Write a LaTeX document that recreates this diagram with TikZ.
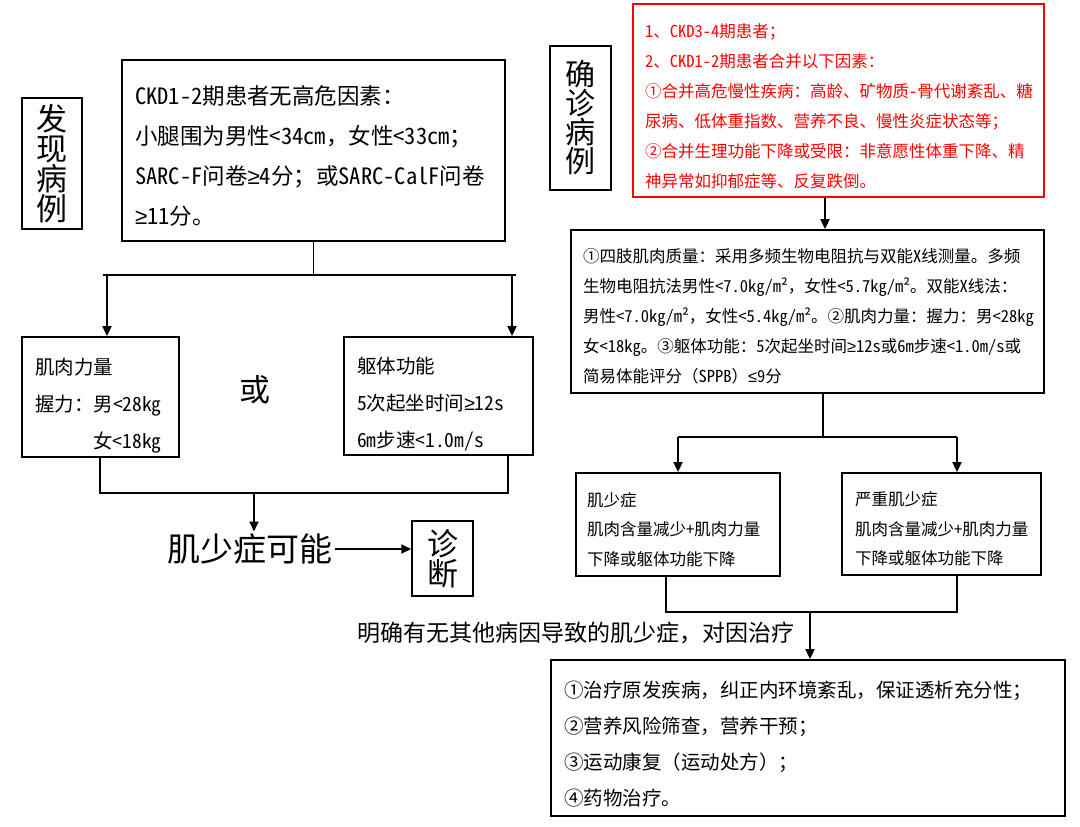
\documentclass[tikz,border=0pt]{standalone}
\usepackage{fontspec}
\setmainfont{Noto Sans CJK SC}[RawFeature=+hwid]
\newfontfamily\fwfont{Noto Sans CJK SC}
\newfontfamily\symfont{Liberation Sans}
\newcommand\gsym{{\symfont ≥}}
\newcommand\lsym{{\symfont ≤}}
\newcommand\fwcomma{{\fwfont ，}}
\newcommand\fwlp{{\fwfont （}}
\newcommand\fwrp{{\fwfont ）}}
\usepackage{tikz}
\usetikzlibrary{arrows.meta}

\begin{document}
\begin{tikzpicture}[x=1pt,y=-1pt]
	\tikzset{box/.style={draw,line width=1.8pt,align=left,inner xsep=13pt,inner ysep=0pt},
		textdrop/.style={execute at begin node={\exhyphenpenalty=10000\relax\rule{0pt}{\dimexpr0.9em+#1\relax}}},
		tag/.style={draw,line width=1.5pt,align=center,inner sep=0pt,font=\fontsize{31}{30}\selectfont},
		link/.style={line width=1.8pt},
		>={Triangle[length=10pt,width=9pt]}}
	\useasboundingbox (0,0) rectangle (1080,827);

	%% Left column: screening
	\node[tag,minimum width=60pt,minimum height=131pt] (find) at (52,163.5) {发\\现\\病\\例};
	\node[box,textdrop=10pt,text width=357pt,minimum width=383pt,minimum height=181pt,font=\fontsize{22.5}{40}\selectfont] (screen) at (313.5,150.5)
		{CKD1-2期患者无高危因素：\\小腿围为男性<34cm\fwcomma 女性<33cm；\\SARC-F问卷\gsym 4分；或SARC-CalF问卷\\\gsym 11分。};
	\node[box,textdrop=16pt,text width=131pt,minimum width=157pt,minimum height=120pt,font=\fontsize{19.5}{37}\selectfont] (grip) at (100.5,397)
		{肌肉力量\\握力：男<28kg\\\phantom{握力：}女<18kg};
	\node[box,textdrop=14pt,text width=163pt,minimum width=189pt,minimum height=118pt,font=\fontsize{19.5}{37}\selectfont] (perf) at (438.5,396)
		{躯体功能\\5次起坐时间\gsym 12s\\6m步速<1.0m/s};
	\node[font=\fontsize{31}{31}\selectfont] (or) at (255,390) {或};
	\node[font=\fontsize{33}{33}\selectfont,inner sep=2pt] (maybe) at (250,549) {肌少症可能};
	\node[tag,minimum width=61pt,minimum height=75pt] (diag) at (442.5,558.5) {诊\\断};

	\coordinate (gl) at (107,275);
	\coordinate (gr) at (512,275);
	\draw[link] (screen.south) -- (screen.south |- gl);
	\draw[link] (103,275) -- (516,275);
	\draw[link,->] (gl) -- (gl |- grip.north);
	\draw[link,->] (gr) -- (gr |- perf.north);
	\coordinate (bl) at (100,493);
	\coordinate (br) at (508,493);
	\coordinate (bm) at (254,493);
	\draw[link] (grip.south -| bl) -- (bl) -- (br) -- (perf.south -| br);
	\draw[link,->] (bm) -- (bm |- maybe.north);
	\draw[link,->] (maybe.east) -- (maybe.east -| diag.west);

	%% Right column: diagnosis
	\node[tag,minimum width=61pt,minimum height=144pt,font=\fontsize{30}{29}\selectfont] (confirm) at (580.5,118) {确\\诊\\病\\例};
	\node[box,textdrop=10pt,draw=red,text=red,line width=2.2pt,inner xsep=12pt,text width=387pt,minimum width=411pt,minimum height=193pt,font=\fontsize{16.5}{30}\selectfont] (risk) at (838.5,100.5)
		{1、CKD3-4期患者；\\2、CKD1-2期患者合并以下因素：\\①合并高危慢性疾病：高龄、矿物质-骨代谢紊乱、糖\\尿病、低体重指数、营养不良、慢性炎症状态等；\\②合并生理功能下降或受限：非意愿性体重下降、精\\神异常如抑郁症等、反复跌倒。};
	\node[box,textdrop=9pt,inner xsep=12pt,text width=449pt,minimum width=473pt,minimum height=163pt,font=\fontsize{16.5}{30}\selectfont] (assess) at (807.5,311.5)
		{①四肢肌肉质量：采用多频生物电阻抗与双能X线测量。多频\\生物电阻抗法男性<7.0kg/m²\fwcomma 女性<5.7kg/m²。双能X线法：\\男性<7.0kg/m²\fwcomma 女性<5.4kg/m²。②肌肉力量：握力：男<28kg\\女<18kg。③躯体功能：5次起坐时间\gsym 12s或6m步速<1.0m/s或\\简易体能评分\fwlp SPPB\fwrp\lsym 9分};
	\node[box,textdrop=9pt,inner xsep=11pt,text width=182pt,minimum width=204pt,minimum height=103pt,font=\fontsize{16.5}{29.5}\selectfont] (sarc) at (678,524.5)
		{肌少症\\肌肉含量减少+肌肉力量\\下降或躯体功能下降};
	\node[box,textdrop=9pt,text width=173pt,minimum width=199pt,minimum height=102pt,font=\fontsize{16.5}{29.5}\selectfont] (severe) at (941.5,524)
		{严重肌少症\\肌肉含量减少+肌肉力量\\下降或躯体功能下降};
	\node[font=\fontsize{23}{23}\selectfont] (cause) at (575.5,633) {明确有无其他病因导致的肌少症\fwcomma 对因治疗};
	\node[box,textdrop=11pt,text width=488pt,minimum width=514pt,minimum height=156pt,font=\fontsize{19.5}{36}\selectfont] (treat) at (808,738)
		{①治疗原发疾病\fwcomma 纠正内环境紊乱\fwcomma 保证透析充分性；\\②营养风险筛查\fwcomma 营养干预；\\③运动康复\fwlp 运动处方\fwrp ；\\④药物治疗。};

	\coordinate (ra) at (825,213);
	\draw[link,->] (ra |- risk.south) -- (ra |- assess.north);
	\coordinate (cm) at (823,437);
	\coordinate (cl) at (678,437);
	\coordinate (cr) at (957,437);
	\draw[link] (cm |- assess.south) -- (cm);
	\draw[link] (cl) -- (cr);
	\draw[link,->] (cl) -- (cl |- sarc.north);
	\draw[link,->] (cr) -- (cr |- severe.north);
	\coordinate (dl) at (666,612);
	\coordinate (dr) at (957,612);
	\coordinate (dm) at (810,612);
	\draw[link] (sarc.south -| dl) -- (dl) -- (dr) -- (severe.south -| dr);
	\draw[link,->] (dm) -- (dm |- treat.north);
\end{tikzpicture}
\end{document}
